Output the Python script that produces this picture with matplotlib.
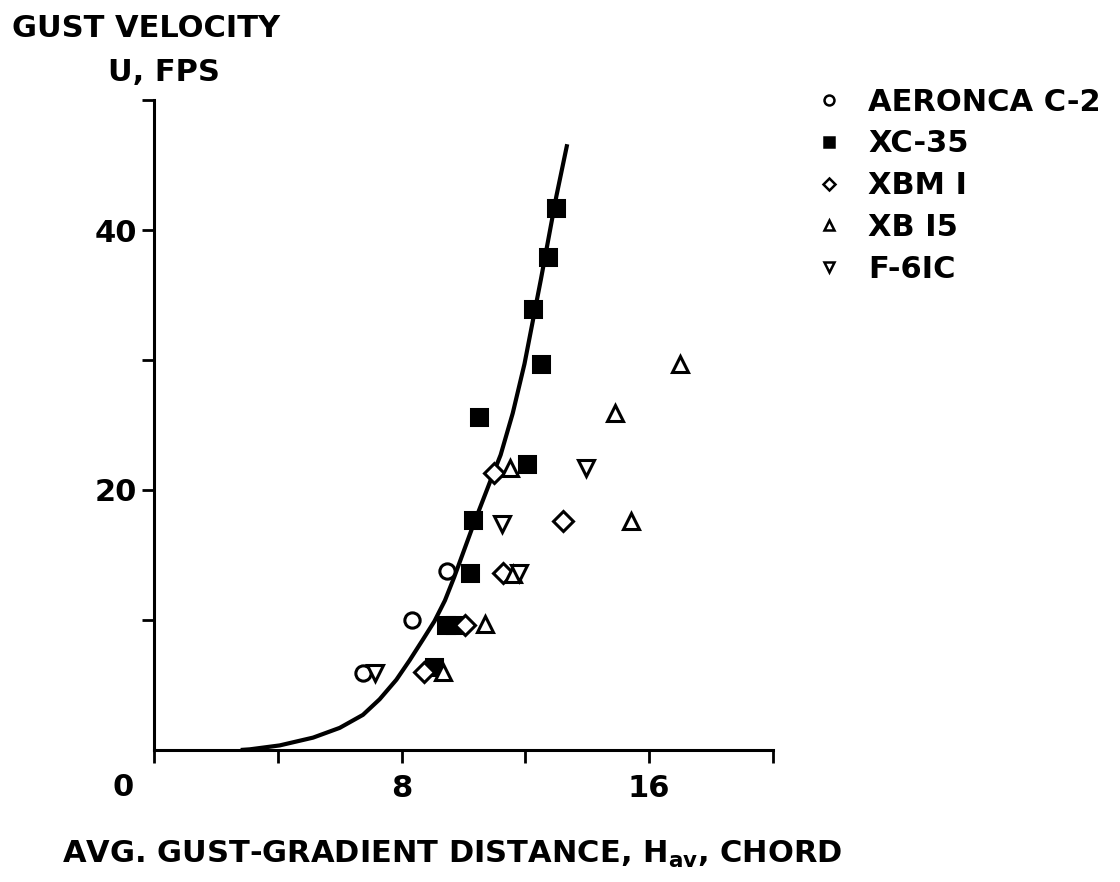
import matplotlib.pyplot as plt
from matplotlib.lines import Line2D

plt.rcParams['font.family'] = ['DejaVu Sans']
plt.rcParams['font.weight'] = 'bold'
plt.rcParams['mathtext.fontset'] = 'dejavusans'
plt.rcParams['mathtext.default'] = 'bf'

# curve
curve_x = [2.8, 3.1, 4.06, 5.14, 6.0, 6.75, 7.29, 7.83, 8.26, 8.69, 9.06, 9.4, 9.7,
           10.3, 10.95, 11.2, 11.59, 11.97, 12.5, 13.0, 13.35]
curve_y = [0.0, 0.05, 0.35, 0.95, 1.7, 2.7, 3.9, 5.4, 6.9, 8.5, 9.9, 11.5, 13.3,
           17.2, 21.2, 22.7, 25.9, 29.7, 36.2, 42.6, 46.6]

aeronca_x = [6.75, 8.34, 9.47]
aeronca_y = [5.9, 10.0, 13.8]

xc35_x = [9.06, 9.45, 9.74, 10.2, 10.3, 10.5, 12.05, 12.5, 12.26, 12.74, 13.0]
xc35_y = [6.4, 9.6, 9.6, 13.6, 17.7, 25.6, 22.0, 29.7, 33.9, 37.9, 41.7]

xbm1_x = [8.72, 10.06, 11.27, 10.98, 13.2]
xbm1_y = [6.0, 9.6, 13.6, 21.3, 17.6]

xb15_x = [9.33, 10.68, 11.6, 11.5, 14.9, 15.4, 17.0]
xb15_y = [6.0, 9.7, 13.5, 21.7, 25.9, 17.6, 29.7]

f61c_x = [7.13, 11.8, 11.25, 13.96]
f61c_y = [5.95, 13.6, 17.4, 21.7]

names   = ["AERONCA C-2", "XC-35", "XBM I", "XB I5", "F-6IC"]
markers = ['o', 's', 'D', '^', 'v']

fig = plt.figure(figsize=(11.2, 8.82), dpi=100)
ax = fig.add_axes([0.1375, 0.1497, 0.5527, 0.7369])

ax.plot(curve_x, curve_y, color='black', lw=3.0, solid_capstyle='butt',
        solid_joinstyle='round', zorder=2)

series = [(aeronca_x, aeronca_y), (xc35_x, xc35_y), (xbm1_x, xbm1_y),
          (xb15_x, xb15_y), (f61c_x, f61c_y)]
sizes = [11, 11, 10, 11, 11]
handles = []
for (xs, ys), m, s, n in zip(series, markers, sizes, names):
    face = 'black' if m == 's' else 'white'
    ax.plot(xs, ys, ls='none', marker=m, ms=s, mfc=face, mec='black', mew=2.2, zorder=3)
    handles.append(Line2D([], [], ls='none', marker=m, ms=s * 0.65, mfc=face,
                          mec='black', mew=1.8, label=n))

ax.set_xlim(0, 20)
ax.set_ylim(0, 50)
for sp in ['top', 'right']:
    ax.spines[sp].set_visible(False)
for sp in ['left', 'bottom']:
    ax.spines[sp].set_linewidth(2.2)

ax.set_xticks([0, 4, 8, 12, 16, 20])
ax.set_xticklabels(['', '', '8', '', '16', ''])
ax.set_yticks([10, 20, 30, 40, 50])
ax.set_yticklabels(['', '20', '', '40', ''])
ax.tick_params(direction='out', length=9, width=2, labelsize=22)
ax.tick_params(axis='x', pad=8)
ax.tick_params(axis='y', pad=3)
ax.text(-1.0, -2.9, '0', ha='center', va='center', fontsize=22, clip_on=False)

fig.text(0.1307, 0.968, 'GUST VELOCITY', ha='center', va='center', fontsize=22)
fig.text(0.146, 0.918, 'U, FPS', ha='center', va='center', fontsize=22)
fig.text(0.404, 0.031, 'AVG. GUST-GRADIENT DISTANCE, H$_{av}$, CHORD',
         ha='center', va='center', fontsize=22)

ax.legend(handles=handles, loc='upper left', bbox_to_anchor=(0.716, 0.918),
          bbox_transform=fig.transFigure, frameon=False, fontsize=22,
          handlelength=0.8, handletextpad=0.87, labelspacing=0.42, borderpad=0)

fig.savefig('out.png', dpi=100)
